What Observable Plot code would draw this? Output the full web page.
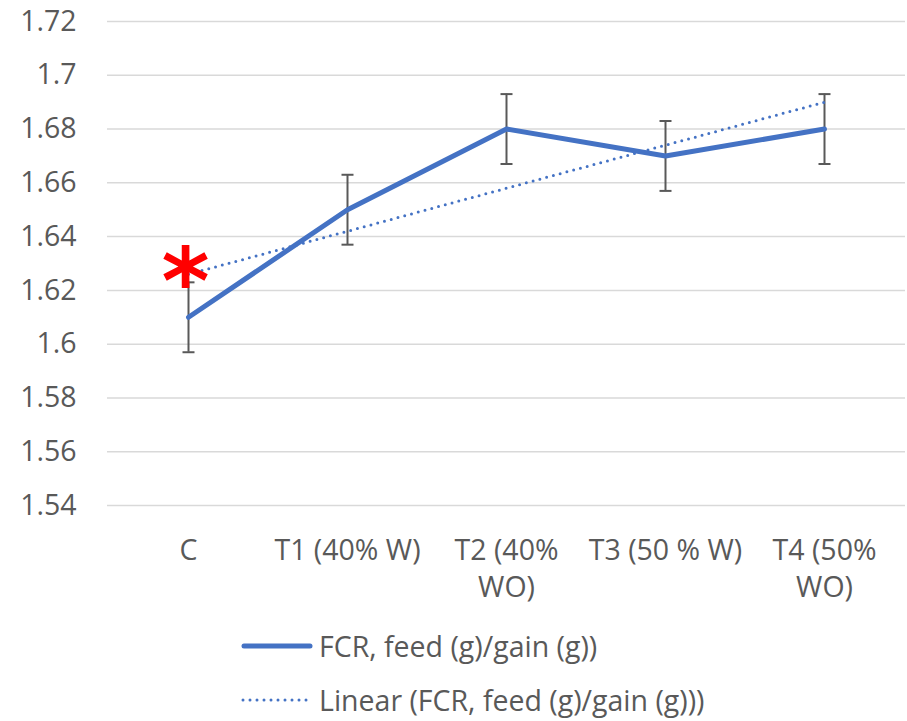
<!DOCTYPE html>
<html>
<head>
<meta charset="utf-8">
<script src="https://cdn.jsdelivr.net/npm/d3@7"></script>
<script src="https://cdn.jsdelivr.net/npm/@observablehq/plot@0.6"></script>
<style>
  html, body { margin: 0; padding: 0; background: #fff; }
  #wrap { position: relative; width: 907px; height: 721px; font-family: "Open Sans", sans-serif; }
  .leg { position: absolute; left: 241px; display: flex; align-items: center; font-size: 28.5px; color: #595959; white-space: nowrap; }
  .leg svg { margin-right: 6px; }
</style>
</head>
<body>
<div id="wrap"></div>
<script>
const categories = ["C", "T1 (40% W)", "T2 (40% WO)", "T3 (50 % W)", "T4 (50% WO)"];
const tickLabels = ["C", "T1 (40% W)", "T2 (40%\nWO)", "T3 (50 % W)", "T4 (50%\nWO)"];
const fcr = [1.61, 1.65, 1.68, 1.67, 1.68];
const err = [0.013, 0.013, 0.013, 0.013, 0.013];
const yTicks = [1.54, 1.56, 1.58, 1.6, 1.62, 1.64, 1.66, 1.68, 1.7, 1.72];
const seriesName = "FCR, feed (g)/gain (g))";
const trendName = "Linear (FCR, feed (g)/gain (g)))";
const markerText = "*";

const data = categories.map((c, i) => ({c, v: fcr[i], e: err[i], i: i + 1}));
// linear trendline (least squares on category index)
const mx = d3.mean(data, d => d.i), my = d3.mean(data, d => d.v);
const slope = d3.sum(data, d => (d.i - mx) * (d.v - my)) / d3.sum(data, d => (d.i - mx) ** 2);
const icpt = my - slope * mx;
const trend = data.map(d => ({c: d.c, v: icpt + slope * d.i}));

const blue = "#4472C4";
const gray = "#595959";
const cap = {draw(ctx) { ctx.moveTo(-6, 0); ctx.lineTo(6, 0); }};

const chart = Plot.plot({
  width: 907,
  height: 610,
  marginLeft: 107,
  marginRight: 2,
  marginTop: 21,
  marginBottom: 105,
  style: {fontFamily: "'Open Sans', sans-serif", fontSize: "28.5px", color: gray, background: "#fff"},
  x: {type: "point", domain: categories, padding: 0.5},
  y: {domain: [1.54, 1.72]},
  marks: [
    Plot.gridY(yTicks, {stroke: "#D9D9D9", strokeOpacity: 1, strokeWidth: 1.5}),
    Plot.axisY(yTicks, {tickSize: 0, tickPadding: 31, fontSize: 28.5, fill: gray, tickFormat: d => String(+d.toFixed(2)), label: null}),
    Plot.axisX(categories, {tickSize: 0, tickPadding: 28, fontSize: 28.5, fill: gray, lineHeight: 1.3, tickFormat: (d, i) => tickLabels[categories.indexOf(d)], label: null}),
    Plot.ruleX(data, {x: "c", y1: d => d.v - d.e, y2: d => d.v + d.e, stroke: gray, strokeWidth: 2}),
    Plot.dot(data, {x: "c", y: d => d.v + d.e, symbol: cap, stroke: gray, strokeWidth: 2, r: 6}),
    Plot.dot(data, {x: "c", y: d => d.v - d.e, symbol: cap, stroke: gray, strokeWidth: 2, r: 6}),
    Plot.line(trend, {x: "c", y: "v", stroke: blue, strokeWidth: 3, strokeDasharray: "0 7", strokeLinecap: "round"}),
    Plot.line(data, {x: "c", y: "v", stroke: blue, strokeWidth: 5, strokeLinecap: "round", strokeLinejoin: "round"}),
    Plot.text([trend[0]], {x: "c", y: "v", text: () => markerText, fill: "#FF0000", fontSize: 92, fontWeight: "bold", fontFamily: "'DejaVu Sans', sans-serif", dy: 10, dx: -3})
  ]
});

const wrap = document.getElementById("wrap");
wrap.appendChild(chart);

function legendItem(top, label, dashed) {
  const div = document.createElement("div");
  div.className = "leg";
  div.style.top = top + "px";
  const ns = "http://www.w3.org/2000/svg";
  const s = document.createElementNS(ns, "svg");
  s.setAttribute("width", 72); s.setAttribute("height", 20);
  const l = document.createElementNS(ns, "line");
  l.setAttribute("x1", dashed ? 2 : 3); l.setAttribute("x2", dashed ? 70 : 69);
  l.setAttribute("y1", 10); l.setAttribute("y2", 10);
  l.setAttribute("stroke", blue);
  l.setAttribute("stroke-linecap", "round");
  l.setAttribute("stroke-width", dashed ? 3 : 5);
  if (dashed) l.setAttribute("stroke-dasharray", "0 7");
  s.appendChild(l);
  const t = document.createElement("span");
  t.textContent = label;
  div.appendChild(s); div.appendChild(t);
  wrap.appendChild(div);
}
legendItem(627, seriesName, false);
legendItem(681, trendName, true);
</script>
</body>
</html>
